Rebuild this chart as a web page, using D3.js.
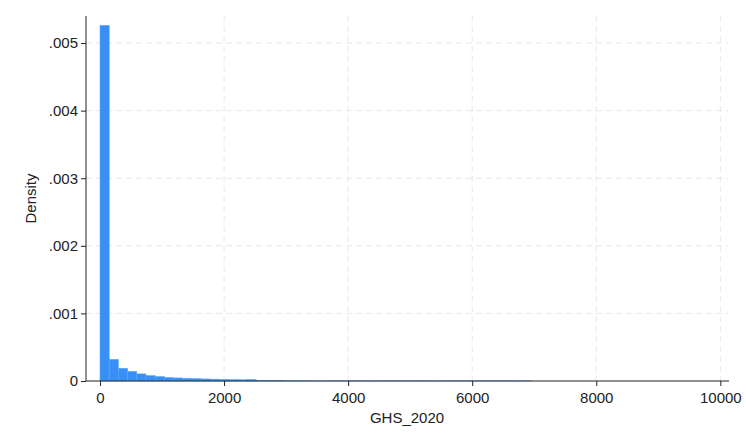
<!DOCTYPE html>
<html>
<head>
<meta charset="utf-8">
<script src="https://cdn.jsdelivr.net/npm/d3@7"></script>
<style>
  body { margin: 0; background: #fff; }
  svg { display: block; font-family: "Liberation Sans", Arial, sans-serif; }
</style>
</head>
<body>
<div id="chart"></div>
<script>
// histogram of GHS_2020, bins of equal width starting at 0
var binStart = 0;
var binWidth = 148;
var densities = [
  0.00526, 0.00032, 0.000188, 0.000143, 0.000105, 0.000080, 0.000065, 0.000052,
  0.000045, 0.000040, 0.000035, 0.000030, 0.000027, 0.000024, 0.000020, 0.000018,
  0.000022, 0.000010, 0.000008, 0.000006, 0.000004, 0.000003, 0.000002, 0.000001,
  0, 0, 0.000001, 0.000002, 0.000002, 0.000002, 0.000002, 0.000001,
  0.000002, 0.000002, 0.000002, 0.000001, 0.000002, 0.000002, 0.000001, 0,
  0.000002, 0.000002, 0.000002, 0.000002, 0, 0, 0.000002, 0.000002,
  0.000002, 0.000002, 0, 0, 0, 0, 0.000001, 0,
  0, 0, 0, 0, 0.000002, 0, 0, 0, 0, 0, 0
];
var xTicks = [0, 2000, 4000, 6000, 8000, 10000];
var yTicks = [0, 0.001, 0.002, 0.003, 0.004, 0.005];
var yTickLabels = ["0", ".001", ".002", ".003", ".004", ".005"];

var width = 746, height = 447;
var plotLeft = 86, plotRight = 729, plotTop = 16, plotBottom = 381;
var fontSize = 15;

var svg = d3.select("#chart").append("svg")
    .attr("width", width)
    .attr("height", height);

var x = d3.scaleLinear().domain([-226, 10140]).range([plotLeft, plotRight]);
var y = d3.scaleLinear().domain([0, 0.0054]).range([plotBottom, plotTop]);

// grid lines
svg.append("g").selectAll("line")
    .data(yTicks.filter(function(d){ return d > 0; }))
  .enter().append("line")
    .attr("x1", plotLeft).attr("x2", plotRight)
    .attr("y1", function(d){ return y(d); })
    .attr("y2", function(d){ return y(d); })
    .attr("stroke", "#e8e8e8")
    .attr("stroke-width", 1)
    .attr("stroke-dasharray", "6,4");

svg.append("g").selectAll("line")
    .data(xTicks.filter(function(d){ return d > 0; }))
  .enter().append("line")
    .attr("x1", function(d){ return x(d); })
    .attr("x2", function(d){ return x(d); })
    .attr("y1", plotTop).attr("y2", plotBottom)
    .attr("stroke", "#e8e8e8")
    .attr("stroke-width", 1)
    .attr("stroke-dasharray", "6,4");

// bars
svg.append("g").selectAll("rect")
    .data(densities)
  .enter().append("rect")
    .filter(function(d){ return d > 0; })
    .attr("x", function(d, i){ return x(binStart + i * binWidth); })
    .attr("width", function(d, i){ return x(binStart + (i + 1) * binWidth) - x(binStart + i * binWidth); })
    .attr("y", function(d){ return y(d); })
    .attr("height", function(d){ return plotBottom - y(d); })
    .attr("fill", "#3890f6")
    .attr("stroke", "#5aa4f8")
    .attr("stroke-width", 0.6);

// axes
var xAxis = d3.axisBottom(x).tickValues(xTicks).tickSize(5).tickSizeOuter(0)
    .tickFormat(d3.format("d"));
var gx = svg.append("g")
    .attr("transform", "translate(0," + plotBottom + ")")
    .call(xAxis);
gx.select(".domain").attr("stroke", "#222").attr("d", "M" + plotLeft + ",0H" + plotRight);
gx.selectAll(".tick line").attr("stroke", "#222");
gx.selectAll("text").attr("font-size", fontSize).attr("fill", "#222").attr("dy", "0.9em")
    .attr("font-family", "Liberation Sans, Arial, sans-serif");

var yAxis = d3.axisLeft(y).tickValues(yTicks).tickSize(5).tickSizeOuter(0)
    .tickFormat(function(d, i){ return yTickLabels[i]; });
var gy = svg.append("g")
    .attr("transform", "translate(" + plotLeft + ",0)")
    .call(yAxis);
gy.select(".domain").attr("stroke", "#222").attr("d", "M0," + plotTop + "V" + plotBottom);
gy.selectAll(".tick line").attr("stroke", "#222");
gy.selectAll("text").attr("font-size", fontSize).attr("fill", "#222")
    .attr("font-family", "Liberation Sans, Arial, sans-serif");

// axis titles
svg.append("text")
    .attr("x", 407)
    .attr("y", 423)
    .attr("text-anchor", "middle")
    .attr("font-size", fontSize)
    .attr("fill", "#222")
    .text("GHS_2020");

svg.append("text")
    .attr("transform", "translate(36," + ((plotTop + plotBottom) / 2) + ") rotate(-90)")
    .attr("text-anchor", "middle")
    .attr("font-size", fontSize)
    .attr("fill", "#222")
    .text("Density");
</script>
</body>
</html>
